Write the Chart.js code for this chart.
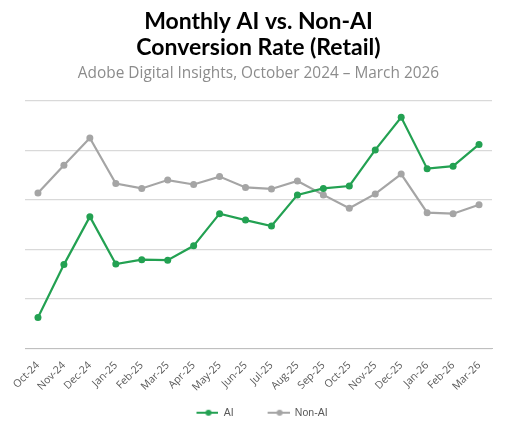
<!DOCTYPE html>
<html>
<head>
<meta charset="utf-8">
<script src="https://cdn.jsdelivr.net/npm/chart.js@4.4.1/dist/chart.umd.min.js"></script>
<style>
html,body{margin:0;padding:0;background:#fff;}
#wrap{width:505px;height:426px;}
</style>
</head>
<body>
<div id="wrap"><canvas id="c"></canvas></div>
<script>
const categories = ["Oct-24","Nov-24","Dec-24","Jan-25","Feb-25","Mar-25","Apr-25","May-25","Jun-25","Jul-25","Aug-25","Sep-25","Oct-25","Nov-25","Dec-25","Jan-26","Feb-26","Mar-26"];
const aiValues = [0.62,1.69,2.66,1.70,1.79,1.78,2.07,2.72,2.59,2.47,3.10,3.23,3.28,4.01,4.67,3.63,3.68,4.12];
const nonAiValues = [3.14,3.70,4.25,3.33,3.23,3.40,3.31,3.47,3.25,3.22,3.38,3.10,2.83,3.12,3.52,2.74,2.72,2.90];
const titleLines = ["Monthly AI vs. Non-AI","Conversion Rate (Retail)"];
const subtitleText = "Adobe Digital Insights, October 2024 \u2013 March 2026";

const GREEN = "#23a152";
const GRAY = "#a5a5a5";
const LEAD = 31;   // blank space before each legend marker (item spacing)
const MARK = 22;   // legend marker line length

function legendIcon(color){
  const W = LEAD + MARK, H = 8;
  const c = document.createElement('canvas');
  c.width = W; c.height = H;
  const g = c.getContext('2d');
  g.strokeStyle = color; g.lineWidth = 2;
  g.beginPath(); g.moveTo(LEAD,4); g.lineTo(W,4); g.stroke();
  g.fillStyle = color;
  g.beginPath(); g.arc(LEAD+MARK/2+1,4,3,0,Math.PI*2); g.fill();
  return c;
}

Chart.defaults.font.family = "'Open Sans', sans-serif";

const chart = new Chart(document.getElementById('c'), {
  type: 'line',
  data: {
    labels: categories,
    datasets: [
      {label:"AI", data: aiValues, borderColor: GREEN, backgroundColor: GREEN, borderWidth: 2.2,
       pointRadius: 3.5, pointBackgroundColor: GREEN, pointBorderWidth: 0, tension: 0},
      {label:"Non-AI", data: nonAiValues, borderColor: GRAY, backgroundColor: GRAY, borderWidth: 2.2,
       pointRadius: 3.5, pointBackgroundColor: GRAY, pointBorderWidth: 0, tension: 0}
    ]
  },
  options: {
    responsive: true,
    maintainAspectRatio: false,
    animation: false,
    layout: {padding: {left: 25, right: 13, top: 8, bottom: -2}},
    plugins: {
      title: {
        display: true, text: titleLines, color: "#000",
        font: {family: "Lato, 'Open Sans', sans-serif", size: 23, weight: 'bold', lineHeight: 1.14},
        padding: {top: 0, bottom: 4}
      },
      subtitle: {
        display: true, text: subtitleText, color: "#8c8c8c",
        font: {family: "'Open Sans', sans-serif", size: 15.4, lineHeight: 1.2},
        padding: {top: 0, bottom: 18}
      },
      legend: {
        position: 'bottom',
        labels: {
          usePointStyle: true, color: "#595959", pointStyleWidth: LEAD + MARK,
          font: {family: "'Liberation Sans', Arial, sans-serif", size: 10.5}, boxWidth: LEAD + MARK, boxHeight: 8, padding: 3,
          generateLabels(chart){
            return chart.data.datasets.map((ds,i)=>({
              text: ds.label, fillStyle: ds.borderColor, strokeStyle: ds.borderColor,
              pointStyle: legendIcon(ds.borderColor), datasetIndex: i, hidden: false, lineWidth: 0,
              fontColor: "#595959"
            }));
          }
        }
      },
      tooltip: {enabled: false}
    },
    scales: {
      x: {
        offset: true,
        grid: {display: false, drawTicks: false},
        border: {display: true, color: "#bfbfbf", width: 1},
        ticks: {color: "#595959", font: {size: 10.5}, maxRotation: 45, minRotation: 45, padding: 11, autoSkip: false}
      },
      y: {
        min: 0, max: 5,
        ticks: {display: false, stepSize: 1},
        grid: {color: "#d9d9d9", lineWidth: 1.2, drawTicks: false},
        border: {display: false}
      }
    }
  }
});

// shift the centred legend row left (compensates the blank lead of the first marker)
const lg = chart.legend;
const baseFit = lg.fit;
lg.fit = function(){ baseFit.apply(this, arguments); if (this.lineWidths) this.lineWidths[0] += 2*LEAD - 38; };
chart.update();
</script>
</body>
</html>
